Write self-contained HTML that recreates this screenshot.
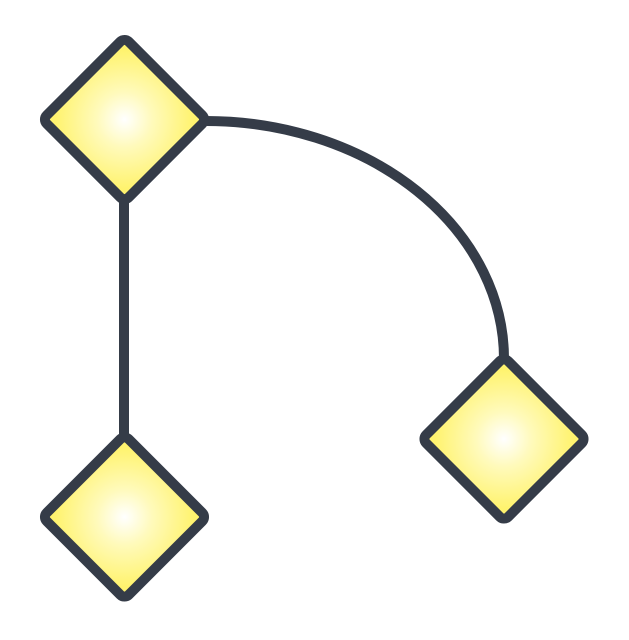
<!DOCTYPE html>
<html><head><meta charset="utf-8"><style>html,body{margin:0;padding:0;background:#fff;}svg{display:block}</style></head>
<body>
<svg width="629" height="640" viewBox="0 0 629 640">
<defs>
<radialGradient id="g" cx="50%" cy="50%" r="60%">
<stop offset="0" stop-color="#ffffff"/>
<stop offset="0.4" stop-color="#fffabb"/>
<stop offset="1" stop-color="#fff36e"/>
</radialGradient>
</defs>
<line x1="124" y1="196" x2="124" y2="437" stroke="#353c48" stroke-width="10"/>
<path d="M206,121 A298 238 0 0 1 504 360" fill="none" stroke="#353c48" stroke-width="10"/>
<rect x="-58" y="-58" width="116" height="116" rx="6" transform="translate(124.5 119.5) rotate(45)" fill="url(#g)" stroke="#353c48" stroke-width="10"/>
<rect x="-58" y="-58" width="116" height="116" rx="6" transform="translate(124.5 517) rotate(45)" fill="url(#g)" stroke="#353c48" stroke-width="10"/>
<rect x="-58" y="-58" width="116" height="116" rx="6" transform="translate(504 439) rotate(45)" fill="url(#g)" stroke="#353c48" stroke-width="10"/>
</svg>
</body></html>
